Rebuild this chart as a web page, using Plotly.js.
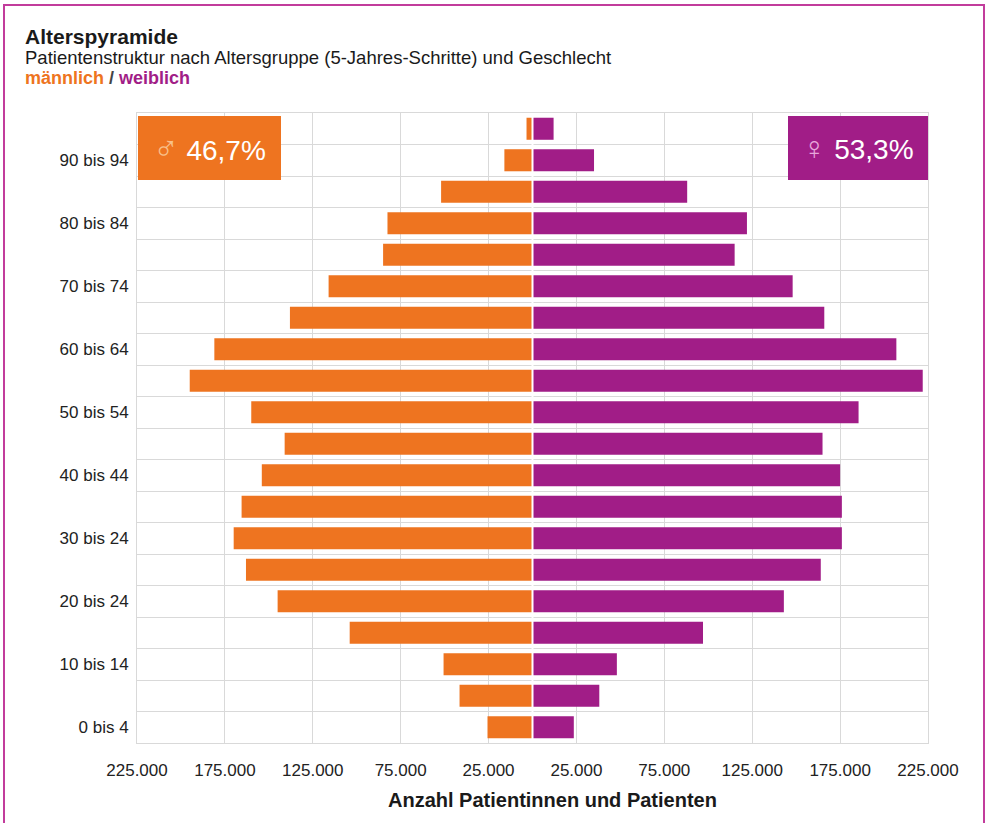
<!DOCTYPE html>
<html>
<head>
<meta charset="utf-8">
<script src="https://cdn.plot.ly/plotly-3.0.1.min.js"></script>
<style>
  html, body { margin: 0; padding: 0; background: #ffffff; }
  #wrap { position: relative; width: 986px; height: 823px; overflow: hidden; }
  #chart { position: absolute; left: 0; top: 0; width: 986px; height: 823px; }
  #frame { position: absolute; left: 3px; top: 4px; width: 978px; height: 860px;
           border: 2px solid #c23c9c; pointer-events: none; }
</style>
</head>
<body>
<div id="wrap">
  <div id="chart"></div>
  <div id="frame"></div>
</div>
<script>
// Age groups, bottom to top
const ageGroups = ["0 bis 4","5 bis 9","10 bis 14","15 bis 19","20 bis 24","25 bis 29",
  "30 bis 34","35 bis 39","40 bis 44","45 bis 49","50 bis 54","55 bis 59",
  "60 bis 64","65 bis 69","70 bis 74","75 bis 79","80 bis 84","85 bis 89",
  "90 bis 94","95 und älter"];
// Patients
const male   = [25600, 41500, 50600, 104000, 145000, 163000, 170000, 165500, 154000, 141000,
                160000, 195000, 181000, 138000, 116000, 85000, 82500, 52000, 16000, 3400];
const female = [23500, 38000, 48000, 97000, 143000, 164000, 176000, 176000, 175000, 165000,
                185500, 222000, 207000, 166000, 148000, 115000, 122000, 88000, 35000, 12000];
// Axis tick labels as printed
const yTickIdx = [0, 2, 4, 6, 8, 10, 12, 14, 16, 18];
const yTickText = ["0 bis 4","10 bis 14","20 bis 24","30 bis 24","40 bis 44",
                   "50 bis 54","60 bis 64","70 bis 74","80 bis 84","90 bis 94"];
const xTickVals = [-225000,-175000,-125000,-75000,-25000,25000,75000,125000,175000,225000];
const xTickText = ["225.000","175.000","125.000","75.000","25.000",
                   "25.000","75.000","125.000","175.000","225.000"];
const shareMale = "46,7%";
const shareFemale = "53,3%";

const ORANGE = "#ee7420";
const PURPLE = "#a11d87";
const FONT = "Liberation Sans, Arial, sans-serif";

const yIdx = ageGroups.map((_, i) => i);
const fmt = v => v.toLocaleString("de-DE");

const traces = [
  {
    type: "bar", orientation: "h", name: "männlich",
    y: yIdx, x: male.map(v => -v),
    text: ageGroups, customdata: male.map(fmt),
    hovertemplate: "%{text}: %{customdata}<extra>männlich</extra>",
    textposition: "none",
    marker: { color: ORANGE }
  },
  {
    type: "bar", orientation: "h", name: "weiblich",
    y: yIdx, x: female,
    text: ageGroups, customdata: female.map(fmt),
    hovertemplate: "%{text}: %{customdata}<extra>weiblich</extra>",
    textposition: "none",
    marker: { color: PURPLE }
  }
];

const layout = {
  width: 986, height: 823,
  margin: { l: 137, r: 58, t: 113, b: 80, pad: 0 },
  paper_bgcolor: "#ffffff", plot_bgcolor: "#ffffff",
  font: { family: FONT, color: "#222222", size: 16 },
  showlegend: false,
  barmode: "overlay",
  bargap: 0.3,
  xaxis: {
    range: [-225000, 225000], fixedrange: true,
    tickmode: "array", tickvals: xTickVals, ticktext: xTickText,
    showgrid: true, gridcolor: "#d9d9d9", gridwidth: 1,
    zeroline: false,
    showline: true, mirror: true, linecolor: "#d9d9d9", linewidth: 1,
    ticks: "", ticklabelstandoff: 12,
    tickfont: { family: FONT, size: 17, color: "#222222" }
  },
  yaxis: {
    range: [-0.5, 19.5], fixedrange: true,
    tickmode: "array", tickvals: yTickIdx, ticktext: yTickText,
    showgrid: false, zeroline: false,
    showline: true, mirror: true, linecolor: "#d9d9d9", linewidth: 1,
    minor: { tick0: -0.5, dtick: 1, showgrid: true, gridcolor: "#d9d9d9", gridwidth: 1, ticks: "" },
    ticks: "", ticklabelstandoff: 4,
    tickfont: { family: FONT, size: 17, color: "#222222" }
  },
  shapes: [
    { type: "line", xref: "x", yref: "paper", x0: 0, x1: 0, y0: 0, y1: 1,
      line: { color: "#ffffff", width: 2 }, layer: "above" }
  ],
  annotations: [
    { xref: "paper", yref: "paper", x: -0.1441, y: 1.121, xanchor: "left", yanchor: "middle",
      showarrow: false, text: "<b>Alterspyramide</b>",
      font: { family: FONT, size: 21, color: "#1a1a1a" } },
    { xref: "paper", yref: "paper", x: -0.1441, y: 1.0885, xanchor: "left", yanchor: "middle",
      showarrow: false, text: "Patientenstruktur nach Altersgruppe (5-Jahres-Schritte) und Geschlecht",
      font: { family: FONT, size: 18.5, color: "#1a1a1a" } },
    { xref: "paper", yref: "paper", x: -0.1441, y: 1.055, xanchor: "left", yanchor: "middle",
      showarrow: false,
      text: "<b><span style='color:" + ORANGE + "'>männlich</span> <span style='color:#444'>/</span> <span style='color:" + PURPLE + "'>weiblich</span></b>",
      font: { family: FONT, size: 18 } },
    { xref: "paper", yref: "paper", x: 0.0013, y: 0.9952, xanchor: "left", yanchor: "top",
      showarrow: false, width: 143, height: 64, bgcolor: ORANGE, borderpad: 0, borderwidth: 0,
      align: "center", valign: "middle",
      text: "<span style='color:#f8c08a;font-size:34px'>♂</span> " + shareMale,
      font: { family: FONT, size: 28, color: "#ffffff" } },
    { xref: "paper", yref: "paper", x: 1.0, y: 0.9952, xanchor: "right", yanchor: "top",
      showarrow: false, width: 140, height: 64, bgcolor: PURPLE, borderpad: 0, borderwidth: 0,
      align: "center", valign: "middle",
      text: "<span style='color:#e7a6da;font-size:32px'>♀</span> " + shareFemale,
      font: { family: FONT, size: 28, color: "#ffffff" } },
    { xref: "paper", yref: "paper", x: 0.5247, y: -0.0905, xanchor: "center", yanchor: "middle",
      showarrow: false, text: "<b>Anzahl Patientinnen und Patienten</b>",
      font: { family: FONT, size: 20, color: "#1a1a1a" } }
  ]
};

Plotly.newPlot("chart", traces, layout, { displayModeBar: false, staticPlot: true });
</script>
</body>
</html>
